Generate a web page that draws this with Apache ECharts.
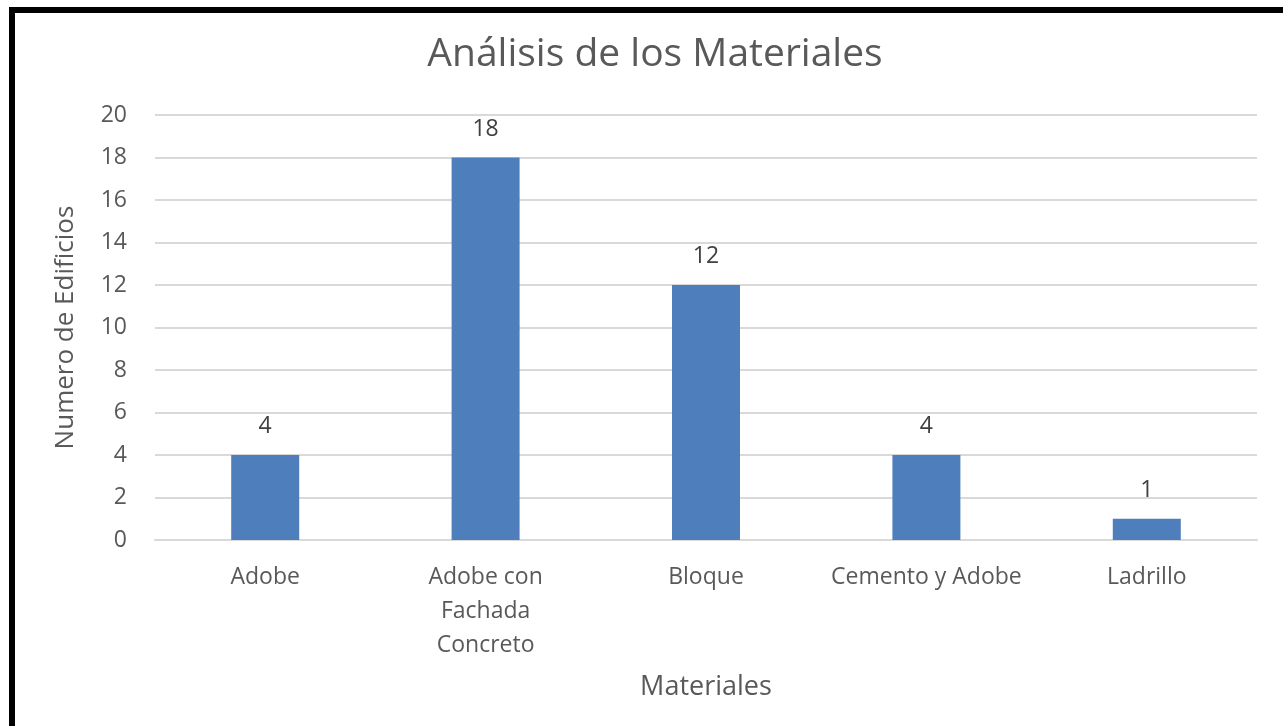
<!DOCTYPE html>
<html><head><meta charset="utf-8">
<script src="https://cdn.jsdelivr.net/npm/echarts@6/dist/echarts.min.js"></script>
<style>
html,body{margin:0;padding:0;background:#fff;}
#wrap{position:relative;width:1283px;height:726px;overflow:hidden;}
#chart{position:absolute;left:0;top:0;width:1283px;height:726px;}
#frame{position:absolute;left:9px;top:7px;width:1290px;height:716px;border-top:6px solid #000;border-left:6px solid #000;border-bottom:2px solid #222;pointer-events:none;}
</style></head>
<body><div id="wrap"><div id="chart"></div><div id="frame"></div></div>
<script>
const categories = ['Adobe', 'Adobe con\nFachada\nConcreto', 'Bloque', 'Cemento y Adobe', 'Ladrillo'];
const values = [4, 18, 12, 4, 1];
const titleText = 'Análisis de los Materiales';
const yName = 'Numero de Edificios';
const xName = 'Materiales';

const FONT = '"Open Sans", "Noto Sans", sans-serif';
const chart = echarts.init(document.getElementById('chart'), null, {renderer: 'canvas'});
chart.setOption({
  animation: false,
  backgroundColor: '#fff',
  title: {
    text: titleText, left: 650, top: 30, textAlign: 'center',
    textStyle: {fontFamily: FONT, fontSize: 39, fontWeight: 'normal', color: '#595959'}
  },
  grid: {left: 155, right: 26, top: 115, bottom: 186, containLabel: false},
  xAxis: {
    type: 'category', data: categories,
    name: xName, nameLocation: 'middle', nameGap: 134,
    nameTextStyle: {fontFamily: FONT, fontSize: 27, color: '#595959'},
    axisLine: {show: true, lineStyle: {color: '#d9d9d9', width: 2}},
    axisTick: {show: false},
    axisLabel: {interval: 0, margin: 20, fontFamily: FONT, fontSize: 23, color: '#595959', lineHeight: 34}
  },
  yAxis: {
    type: 'value', min: 0, max: 20, interval: 2,
    name: yName, nameLocation: 'middle', nameGap: 76, nameRotate: 90,
    nameTextStyle: {fontFamily: FONT, fontSize: 26, color: '#595959'},
    axisLine: {show: false}, axisTick: {show: false},
    axisLabel: {margin: 28, fontFamily: FONT, fontSize: 23, color: '#595959'},
    splitLine: {lineStyle: {color: '#d9d9d9', width: 2}}
  },
  series: [{
    type: 'bar', data: values, barWidth: 68,
    itemStyle: {color: '#4e7fbc'},
    label: {show: true, position: 'top', distance: 17, fontFamily: FONT, fontSize: 23, color: '#404040'}
  }]
});
</script></body></html>
